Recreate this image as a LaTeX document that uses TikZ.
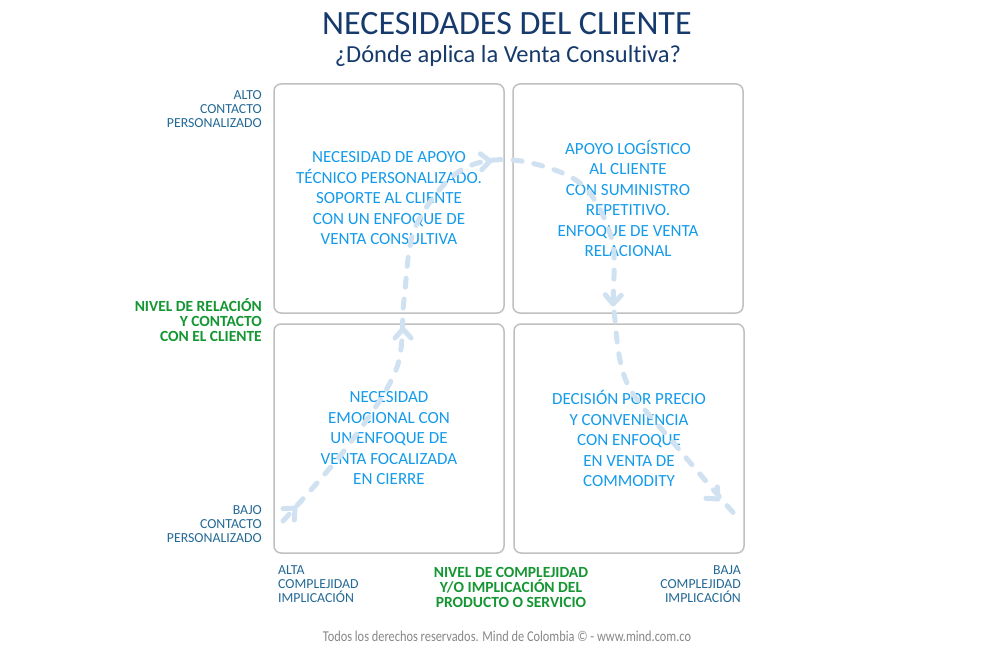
\documentclass[tikz,border=0pt]{standalone}
\usepackage{fontspec}
\setmainfont{Carlito}[Ligatures=NoCommon]
\newfontfamily\footfont{Carlito}[Ligatures=NoCommon]
\definecolor{navy}{RGB}{22,58,108}
\definecolor{boxtxt}{RGB}{20,155,235}
\definecolor{axis}{RGB}{35,105,150}
\definecolor{grn}{RGB}{20,150,50}
\definecolor{boxln}{RGB}{192,192,192}
\definecolor{flow}{RGB}{208,226,242}
\definecolor{foot}{RGB}{135,135,135}
\begin{document}
\begin{tikzpicture}[x=1pt,y=-1pt,
  quad/.style={draw=boxln, line width=1.5pt, rounded corners=7pt, minimum width=230pt, minimum height=229pt,
    text=boxtxt, font=\fontsize{17}{20.5}\selectfont, align=center},
  axlbl/.style={text=axis, font=\fontsize{13.8}{14}\selectfont, inner sep=0pt},
  grnlbl/.style={text=grn, font=\bfseries\fontsize{15.5}{15}\selectfont, inner sep=0pt},
  flowline/.style={draw=flow, line width=5pt, dash pattern=on 9pt off 12pt, line cap=round},
  chev/.style={draw=flow, line width=5pt, line cap=round, line join=round}
]
\useasboundingbox[fill=white] (0,0) rectangle (1000,650);

% title
\node[text=navy, font=\fontsize{34}{38}\selectfont, anchor=base, inner sep=0pt] (title) at (507,35) {NECESIDADES DEL CLIENTE};
\node[text=navy, font=\fontsize{24.5}{28}\selectfont, anchor=base, inner sep=0pt] (subtitle) at (508,63) {¿Dónde aplica la Venta Consultiva?};

% quadrants
\node[quad] (tl) at (389,198.5) {NECESIDAD DE APOYO\\TÉCNICO PERSONALIZADO.\\SOPORTE AL CLIENTE\\CON UN ENFOQUE DE\\VENTA CONSULTIVA};
\node[quad] (tr) at (628,198.5) {APOYO LOGÍSTICO\\AL CLIENTE\\CON SUMINISTRO\\REPETITIVO.\\ENFOQUE DE VENTA\\RELACIONAL};
\node[quad] (bl) at (389,438.5) {NECESIDAD\\EMOCIONAL CON\\UN ENFOQUE DE\\VENTA FOCALIZADA\\EN CIERRE};
\node[quad] (br) at (629,438.5) {DECISIÓN POR PRECIO\\Y CONVENIENCIA\\CON ENFOQUE\\EN VENTA DE\\COMMODITY};

% axis labels
\node[axlbl, anchor=east, align=right] (alto) at (262,109) {ALTO\\CONTACTO\\PERSONALIZADO};
\node[grnlbl, anchor=east, align=right] (nivrel) at (262,320) {NIVEL DE RELACIÓN\\Y CONTACTO\\CON EL CLIENTE};
\node[axlbl, anchor=east, align=right] (bajo) at (262,524) {BAJO\\CONTACTO\\PERSONALIZADO};
\node[axlbl, anchor=west, align=left] (alta) at (278,584) {ALTA\\COMPLEJIDAD\\IMPLICACIÓN};
\node[grnlbl, anchor=center, align=center] (nivcomp) at (511,587) {NIVEL DE COMPLEJIDAD\\Y/O IMPLICACIÓN DEL\\PRODUCTO O SERVICIO};
\node[axlbl, anchor=east, align=right] (baja) at (741,584) {BAJA\\COMPLEJIDAD\\IMPLICACIÓN};

% footer
\node[text=foot, font=\footfont\fontsize{15}{16}\selectfont, anchor=base, inner sep=0pt, xscale=0.824] (footer) at (507,641) {Todos los derechos reservados. Mind de Colombia © - www.mind.com.co};

% flow path
\coordinate (fstart) at (283,521);
\coordinate (fend) at (737,517);
\draw[flowline] plot[smooth, tension=0.55] coordinates {(fstart) (347,447) (396,370) (404,300) (415,228) (458,172) (513,160) (580,183) (612,240) (614,310) (627,383) (677,447) (fend)};
\draw[chev, shift={(295,508)}, rotate=45] (-9,8) -- (0,0) -- (-9,-8);
\draw[chev, shift={(403,329)}, rotate=90] (-9,8) -- (0,0) -- (-9,-8);
\draw[chev, shift={(490,161)}, rotate=5] (-9,8) -- (0,0) -- (-9,-8);
\draw[chev, shift={(613,304)}, rotate=-92] (-9,8) -- (0,0) -- (-9,-8);
\draw[chev, shift={(718,499)}, rotate=-45] (-9,8) -- (0,0) -- (-9,-8);
\end{tikzpicture}
\end{document}
